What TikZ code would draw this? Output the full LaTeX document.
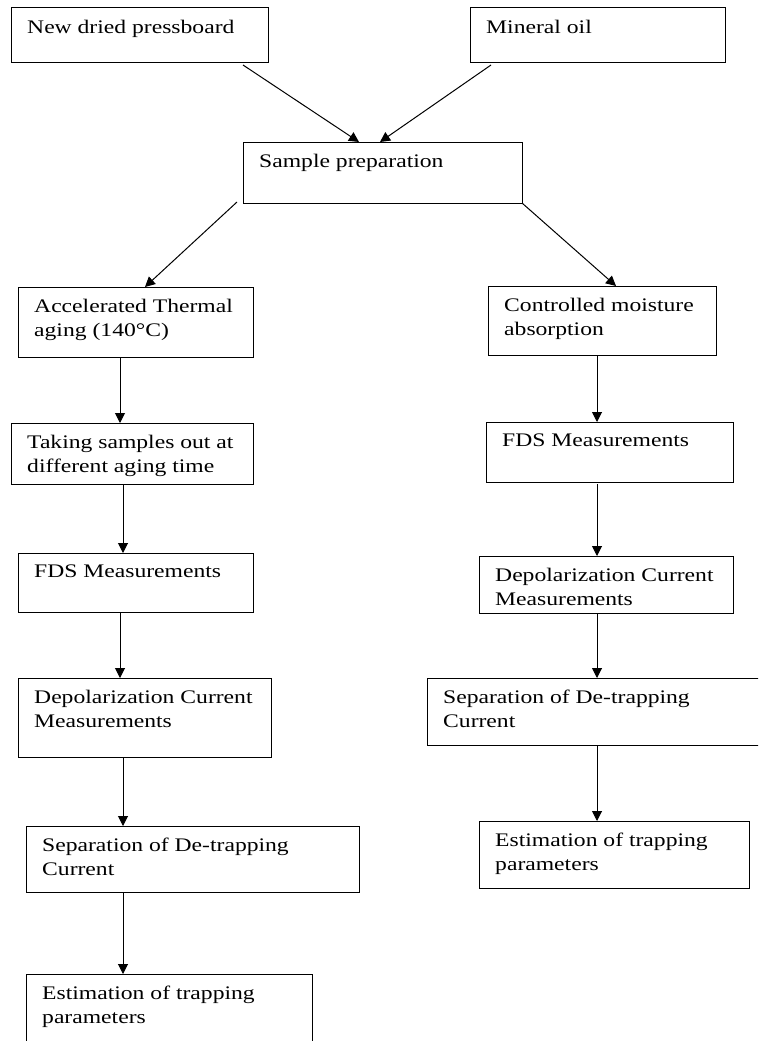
\documentclass[tikz,border=0pt]{standalone}
\usepackage{fontspec}
\setmainfont{Liberation Serif}[FakeStretch=1.23]
\usetikzlibrary{arrows.meta,positioning}

\tikzset{
  stagebox/.style={draw, line width=1pt, anchor=north west, inner sep=0pt, outer sep=0pt},
  stagetext/.style={anchor=north west, align=left, inner sep=0pt, xshift=16pt, yshift=-12pt, font=\fontsize{19.2}{24}\selectfont},
  flow/.style={-{Triangle[length=10pt,width=10pt]}, line width=1pt},
}

\begin{document}
\begin{tikzpicture}[x=1pt, y=-1pt]
    \clip (0,0) rectangle (758,1041);

    \node[stagebox, minimum width=257pt, minimum height=55pt, label={[stagetext]north west:New dried pressboard}] (board) at (11,8) {};
    \node[stagebox, minimum width=255pt, minimum height=55pt, label={[stagetext]north west:Mineral oil}] (oil) at (470,8) {};
    \node[stagebox, minimum width=279pt, minimum height=61pt, label={[stagetext]north west:Sample preparation}] (prep) at (243,142) {};

    % thermal aging branch
    \node[stagebox, minimum width=235pt, minimum height=70pt, label={[stagetext]north west:{Accelerated Thermal\\aging (140°C)}}] (thermal) at (18,287) {};
    \node[stagebox, minimum width=242pt, minimum height=61pt, label={[stagetext]north west:{Taking samples out at\\different aging time}}] (taking) at (11,423) {};
    \node[stagebox, minimum width=235pt, minimum height=59pt, label={[stagetext]north west:FDS Measurements}] (fdsL) at (18,553) {};
    \node[stagebox, minimum width=253pt, minimum height=79pt, label={[stagetext]north west:{Depolarization Current\\Measurements}}] (depolL) at (18,678) {};
    \node[stagebox, minimum width=333pt, minimum height=66pt, label={[stagetext]north west:{Separation of De-trapping\\Current}}] (sepL) at (26,826) {};
    \node[stagebox, minimum width=286pt, minimum height=90pt, label={[stagetext]north west:{Estimation of trapping\\parameters}}] (estL) at (26,974) {};

    % moisture branch
    \node[stagebox, minimum width=228pt, minimum height=69pt, label={[stagetext]north west:{Controlled moisture\\absorption}}] (moisture) at (488,286) {};
    \node[stagebox, minimum width=247pt, minimum height=60pt, label={[stagetext]north west:FDS Measurements}] (fdsR) at (486,422) {};
    \node[stagebox, minimum width=254pt, minimum height=57pt, label={[stagetext]north west:{Depolarization Current\\Measurements}}] (depolR) at (479,556) {};
    \node[stagebox, minimum width=345pt, minimum height=67pt, label={[stagetext]north west:{Separation of De-trapping\\Current}}] (sepR) at (427,678) {};
    \node[stagebox, minimum width=270pt, minimum height=67pt, label={[stagetext]north west:{Estimation of trapping\\parameters}}] (estR) at (479,821) {};

    \draw[flow] ([xshift=232pt,yshift=-2pt]board.south west) -- ([xshift=116pt]prep.north west);
    \draw[flow] ([xshift=21pt,yshift=-2pt]oil.south west) -- ([xshift=137pt]prep.north west);
    \draw[flow] ([xshift=-6pt,yshift=1pt]prep.south west) -- ([xshift=127pt]thermal.north west);
    \draw[flow] (prep.south east) -- ([xshift=128pt]moisture.north west);

    \draw[flow] ([xshift=102pt]thermal.south west) -- ([xshift=109pt]taking.north west);
    \draw[flow] ([xshift=112pt]taking.south west) -- ([xshift=105pt]fdsL.north west);
    \draw[flow] ([xshift=102pt]fdsL.south west) -- ([xshift=102pt]depolL.north west);
    \draw[flow] ([xshift=105pt]depolL.south west) -- ([xshift=97pt]sepL.north west);
    \draw[flow] ([xshift=97pt]sepL.south west) -- ([xshift=97pt]estL.north west);

    \draw[flow] ([xshift=109pt]moisture.south west) -- ([xshift=111pt]fdsR.north west);
    \draw[flow] ([xshift=111pt,yshift=-2pt]fdsR.south west) -- ([xshift=118pt]depolR.north west);
    \draw[flow] ([xshift=118pt]depolR.south west) -- ([xshift=170pt]sepR.north west);
    \draw[flow] ([xshift=170pt]sepR.south west) -- ([xshift=118pt]estR.north west);
\end{tikzpicture}
\end{document}
